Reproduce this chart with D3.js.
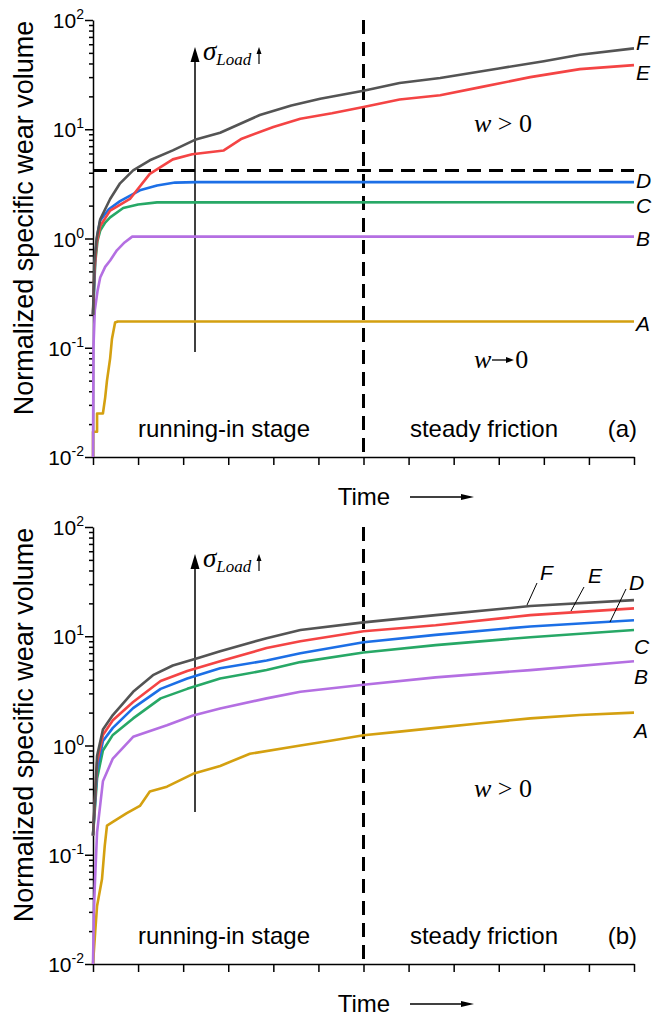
<!DOCTYPE html>
<html>
<head>
<meta charset="utf-8">
<script src="https://cdn.jsdelivr.net/npm/d3@7"></script>
<style>
  body { margin: 0; background: #fff; }
  svg { display: block; }
</style>
</head>
<body>
<svg width="654" height="1021"></svg>
<script>
// series as [time, normalized wear volume] pairs
// panel (a)
var aA = [[0, 0.01], [0, 0.017], [0.09, 0.017], [0.09, 0.025], [0.22, 0.025], [0.27, 0.035], [0.31, 0.05], [0.38, 0.08], [0.42, 0.12], [0.49, 0.17], [0.55, 0.174], [12, 0.174]]
var aB = [[0, 0.01], [0.01, 0.1], [0.04, 0.22], [0.1, 0.33], [0.16, 0.44], [0.27, 0.55], [0.38, 0.63], [0.53, 0.78], [0.7, 0.92], [0.87, 1.04], [12, 1.04]]
var aC = [[0, 0.2], [0.05, 0.6], [0.1, 0.95], [0.16, 1.18], [0.27, 1.4], [0.38, 1.56], [0.67, 1.9], [1.0, 2.05], [1.42, 2.14], [12, 2.15]]
var aD = [[0, 0.2], [0.05, 0.7], [0.1, 1.1], [0.16, 1.46], [0.35, 1.85], [0.6, 2.2], [1.04, 2.76], [1.42, 3.06], [1.82, 3.25], [2.3, 3.28], [12, 3.28]]
var aE = [[0, 0.2], [0.03, 0.5], [0.08, 0.9], [0.16, 1.3], [0.38, 1.8], [0.82, 2.3], [1.26, 3.9], [1.77, 5.3], [2.2, 5.9], [2.9, 6.4], [3.3, 8.2], [4.0, 10.5], [4.6, 12.5], [5.3, 14], [6, 16], [6.8, 18.7], [7.7, 20.5], [8.6, 24.3], [9.7, 30], [10.8, 35.5], [12, 38.6]]
var aF = [[0, 0.2], [0.03, 0.6], [0.08, 1.0], [0.16, 1.5], [0.38, 2.3], [0.6, 3.2], [0.89, 4.2], [1.26, 5.2], [1.77, 6.4], [2.26, 8.0], [2.82, 9.3], [3.7, 13.5], [4.4, 16.5], [5.04, 19], [6, 22.5], [6.8, 26.5], [7.7, 29.5], [9, 36], [10, 42], [10.8, 48], [12, 55]]

// panel (b)
var bA = [[0, 0.01], [0.05, 0.02], [0.09, 0.034], [0.2, 0.06], [0.26, 0.12], [0.31, 0.185], [0.44, 0.2], [0.75, 0.24], [1.04, 0.28], [1.26, 0.38], [1.64, 0.42], [2.22, 0.55], [2.82, 0.65], [3.48, 0.84], [4.6, 1.0], [5.3, 1.11], [6, 1.24], [6.8, 1.34], [7.6, 1.45], [8.6, 1.6], [9.7, 1.77], [10.8, 1.9], [12, 2.0]]
var bB = [[0, 0.01], [0.02, 0.03], [0.04, 0.052], [0.09, 0.16], [0.22, 0.47], [0.44, 0.76], [0.89, 1.2], [1.64, 1.53], [2.22, 1.88], [2.82, 2.18], [3.85, 2.7], [4.6, 3.1], [6, 3.6], [7.6, 4.2], [9.7, 4.9], [12, 5.9]]
var bC = [[0, 0.15], [0.09, 0.5], [0.22, 0.9], [0.44, 1.25], [0.89, 1.77], [1.5, 2.7], [2.09, 3.3], [2.82, 4.1], [3.85, 4.9], [4.6, 5.8], [6, 7.1], [7.6, 8.3], [9.7, 9.8], [12, 11.4]]
var bD = [[0, 0.15], [0.09, 0.6], [0.22, 1.1], [0.44, 1.45], [0.89, 2.2], [1.5, 3.3], [2.09, 4.1], [2.82, 5.1], [3.85, 6.0], [4.6, 7.0], [6, 8.8], [7.6, 10.3], [9.7, 12.3], [12, 14]]
var bE = [[0, 0.15], [0.09, 0.7], [0.22, 1.25], [0.44, 1.7], [0.89, 2.5], [1.5, 3.9], [2.09, 4.8], [2.82, 5.9], [3.85, 7.8], [4.6, 9.0], [6, 11.1], [7.6, 12.6], [9.7, 15.6], [12, 18]]
var bF = [[0, 0.15], [0.09, 0.8], [0.22, 1.4], [0.44, 1.9], [0.89, 3.1], [1.33, 4.4], [1.77, 5.4], [2.37, 6.4], [2.82, 7.3], [3.85, 9.6], [4.6, 11.4], [6, 13.4], [7.6, 15.6], [9.7, 18.9], [12, 21.4]]

var seriesNames = ['A', 'B', 'C', 'D', 'E', 'F']
var colors = ['#d4a010', '#b46fe2', '#27a866', '#1c6fe6', '#f44444', '#545454']
var majorTicks = [0.01, 0.1, 1, 10, 100]
var majorExp = ['-2', '-1', '0', '1', '2']
var timeTicks = d3.range(0, 13)
var steadyStart = 6
var limitLine = 4.2

var svg = d3.select('svg')
var sans = 'Liberation Sans, Arial, sans-serif'
var serif = 'Liberation Serif, Times New Roman, serif'

var x = d3.scaleLinear().domain([0, 12]).range([93, 634])

function arrow (g, x1, y1, x2, y2, len, wid, sw) {
  var a = Math.atan2(y2 - y1, x2 - x1)
  var bx = x2 - len * Math.cos(a), by = y2 - len * Math.sin(a)
  g.append('line').attr('x1', x1).attr('y1', y1).attr('x2', bx + Math.cos(a)).attr('y2', by + Math.sin(a))
    .attr('stroke', '#000').attr('stroke-width', sw)
  var px = -Math.sin(a) * wid / 2, py = Math.cos(a) * wid / 2
  g.append('path').attr('d', 'M' + x2 + ',' + y2 + 'L' + (bx + px) + ',' + (by + py) + 'L' + (bx - px) + ',' + (by - py) + 'Z')
    .attr('fill', '#000')
}

function panel (off, data, tag, opts) {
  var g = svg.append('g').attr('transform', 'translate(0,' + off + ')')
  var y = d3.scaleLog().domain([0.01, 100]).range([457, 20])

  var minors = []
  for (var e = -2; e < 2; e++) for (var m = 2; m <= 9; m++) minors.push(m * Math.pow(10, e))

  var ya = g.append('g').attr('transform', 'translate(93,0)')
  ya.call(d3.axisLeft(y).tickValues(majorTicks).tickSize(8).tickSizeOuter(0).tickFormat(''))
  ya.append('g').call(d3.axisLeft(y).tickValues(minors).tickSize(4).tickSizeOuter(0).tickFormat(''))
    .select('.domain').remove()
  ya.selectAll('path,line').attr('stroke', '#000').attr('stroke-width', 1.5)

  majorTicks.forEach(function (v, i) {
    var t = g.append('text').attr('x', 84).attr('y', y(v) + 8).attr('text-anchor', 'end')
      .attr('font-family', sans).attr('font-size', 21)
    t.append('tspan').text('10')
    t.append('tspan').attr('font-size', 14).attr('dy', -9).text(majorExp[i])
  })

  var xa = g.append('g').attr('transform', 'translate(0,457)')
    .call(d3.axisBottom(x).tickValues(timeTicks).tickSize(8).tickSizeOuter(0).tickFormat(''))
  xa.selectAll('path,line').attr('stroke', '#000').attr('stroke-width', 1.5)

  // y title
  g.append('text').attr('transform', 'translate(33,218) rotate(-90)').attr('text-anchor', 'middle')
    .attr('font-family', sans).attr('font-size', 27).text('Normalized specific wear volume')

  // stage divider
  g.append('line').attr('x1', x(steadyStart)).attr('x2', x(steadyStart)).attr('y1', y(100)).attr('y2', y(0.01))
    .attr('stroke', '#000').attr('stroke-width', 3).attr('stroke-dasharray', '14,8')
  if (opts.limit) {
    g.append('line').attr('x1', x(0)).attr('x2', x(12)).attr('y1', y(limitLine)).attr('y2', y(limitLine))
      .attr('stroke', '#000').attr('stroke-width', 3).attr('stroke-dasharray', '14,8')
  }

  // load arrow
  arrow(g, 195, opts.arrowBottom, 195, 47, 15, 9, 1.5)
  var s = g.append('text').attr('x', 203).attr('y', 60).attr('font-family', serif).attr('font-style', 'italic')
  s.append('tspan').attr('font-size', 27).text('σ')
  s.append('tspan').attr('font-size', 17).attr('dy', 5).text('Load')
  arrow(g, 259, 64, 259, 47, 7, 5, 1.2)

  var line = d3.line().x(function (d) { return x(d[0]) }).y(function (d) { return y(d[1]) })
  data.forEach(function (d, i) {
    g.append('path').datum(d).attr('fill', 'none').attr('stroke', colors[i]).attr('stroke-width', 2.6)
      .attr('stroke-linejoin', 'round').attr('d', line)
  })

  // series letters
  opts.labels.forEach(function (l, i) {
    g.append('text').attr('x', l[0]).attr('y', l[1]).attr('font-family', sans).attr('font-style', 'italic')
      .attr('font-size', 21).text(seriesNames[i])
    if (l[2]) {
      g.append('line').attr('x1', l[2][0]).attr('y1', l[2][1]).attr('x2', l[2][2]).attr('y2', l[2][3])
        .attr('stroke', '#000').attr('stroke-width', 1)
    }
  })

  // stage labels
  g.append('text').attr('x', 224).attr('y', 437).attr('text-anchor', 'middle').attr('font-family', sans)
    .attr('font-size', 24).text('running-in stage')
  g.append('text').attr('x', 484).attr('y', 437).attr('text-anchor', 'middle').attr('font-family', sans)
    .attr('font-size', 24).text('steady friction')
  g.append('text').attr('x', 637).attr('y', 437).attr('text-anchor', 'end').attr('font-family', sans)
    .attr('font-size', 24).text(tag)

  // wear rate notes
  opts.notes.forEach(function (n) {
    var t = g.append('text').attr('x', 474).attr('y', n.y).attr('font-family', serif).attr('font-size', 26)
    t.append('tspan').attr('font-style', 'italic').text('w')
    if (n.zero) {
      t.append('tspan').attr('dx', 24).text('0')
      arrow(g, 492, n.y - 8, 514, n.y - 8, 8, 6, 1.3)
    } else {
      t.append('tspan').text(' > 0')
    }
  })

  // time label
  g.append('text').attr('x', 364).attr('y', 505).attr('text-anchor', 'middle').attr('font-family', sans)
    .attr('font-size', 24).text('Time')
  arrow(g, 410, 497, 474, 497, 13, 6, 1.5)
}

panel(0, [aA, aB, aC, aD, aE, aF], '(a)', {
  limit: true,
  arrowBottom: 352,
  labels: [[636, 331], [636, 246], [636, 213], [636, 188], [636, 80], [636, 50]],
  notes: [{ y: 132 }, { y: 368, zero: true }]
})

panel(507, [bA, bB, bC, bD, bE, bF], '(b)', {
  limit: false,
  arrowBottom: 305,
  labels: [[634, 231], [634, 177], [634, 147], [629, 83, [626, 82, 610, 115]], [588, 76, [584, 80, 571, 104]], [540, 73, [537, 76, 527, 98]]],
  notes: [{ y: 290 }]
})
</script>
</body>
</html>
